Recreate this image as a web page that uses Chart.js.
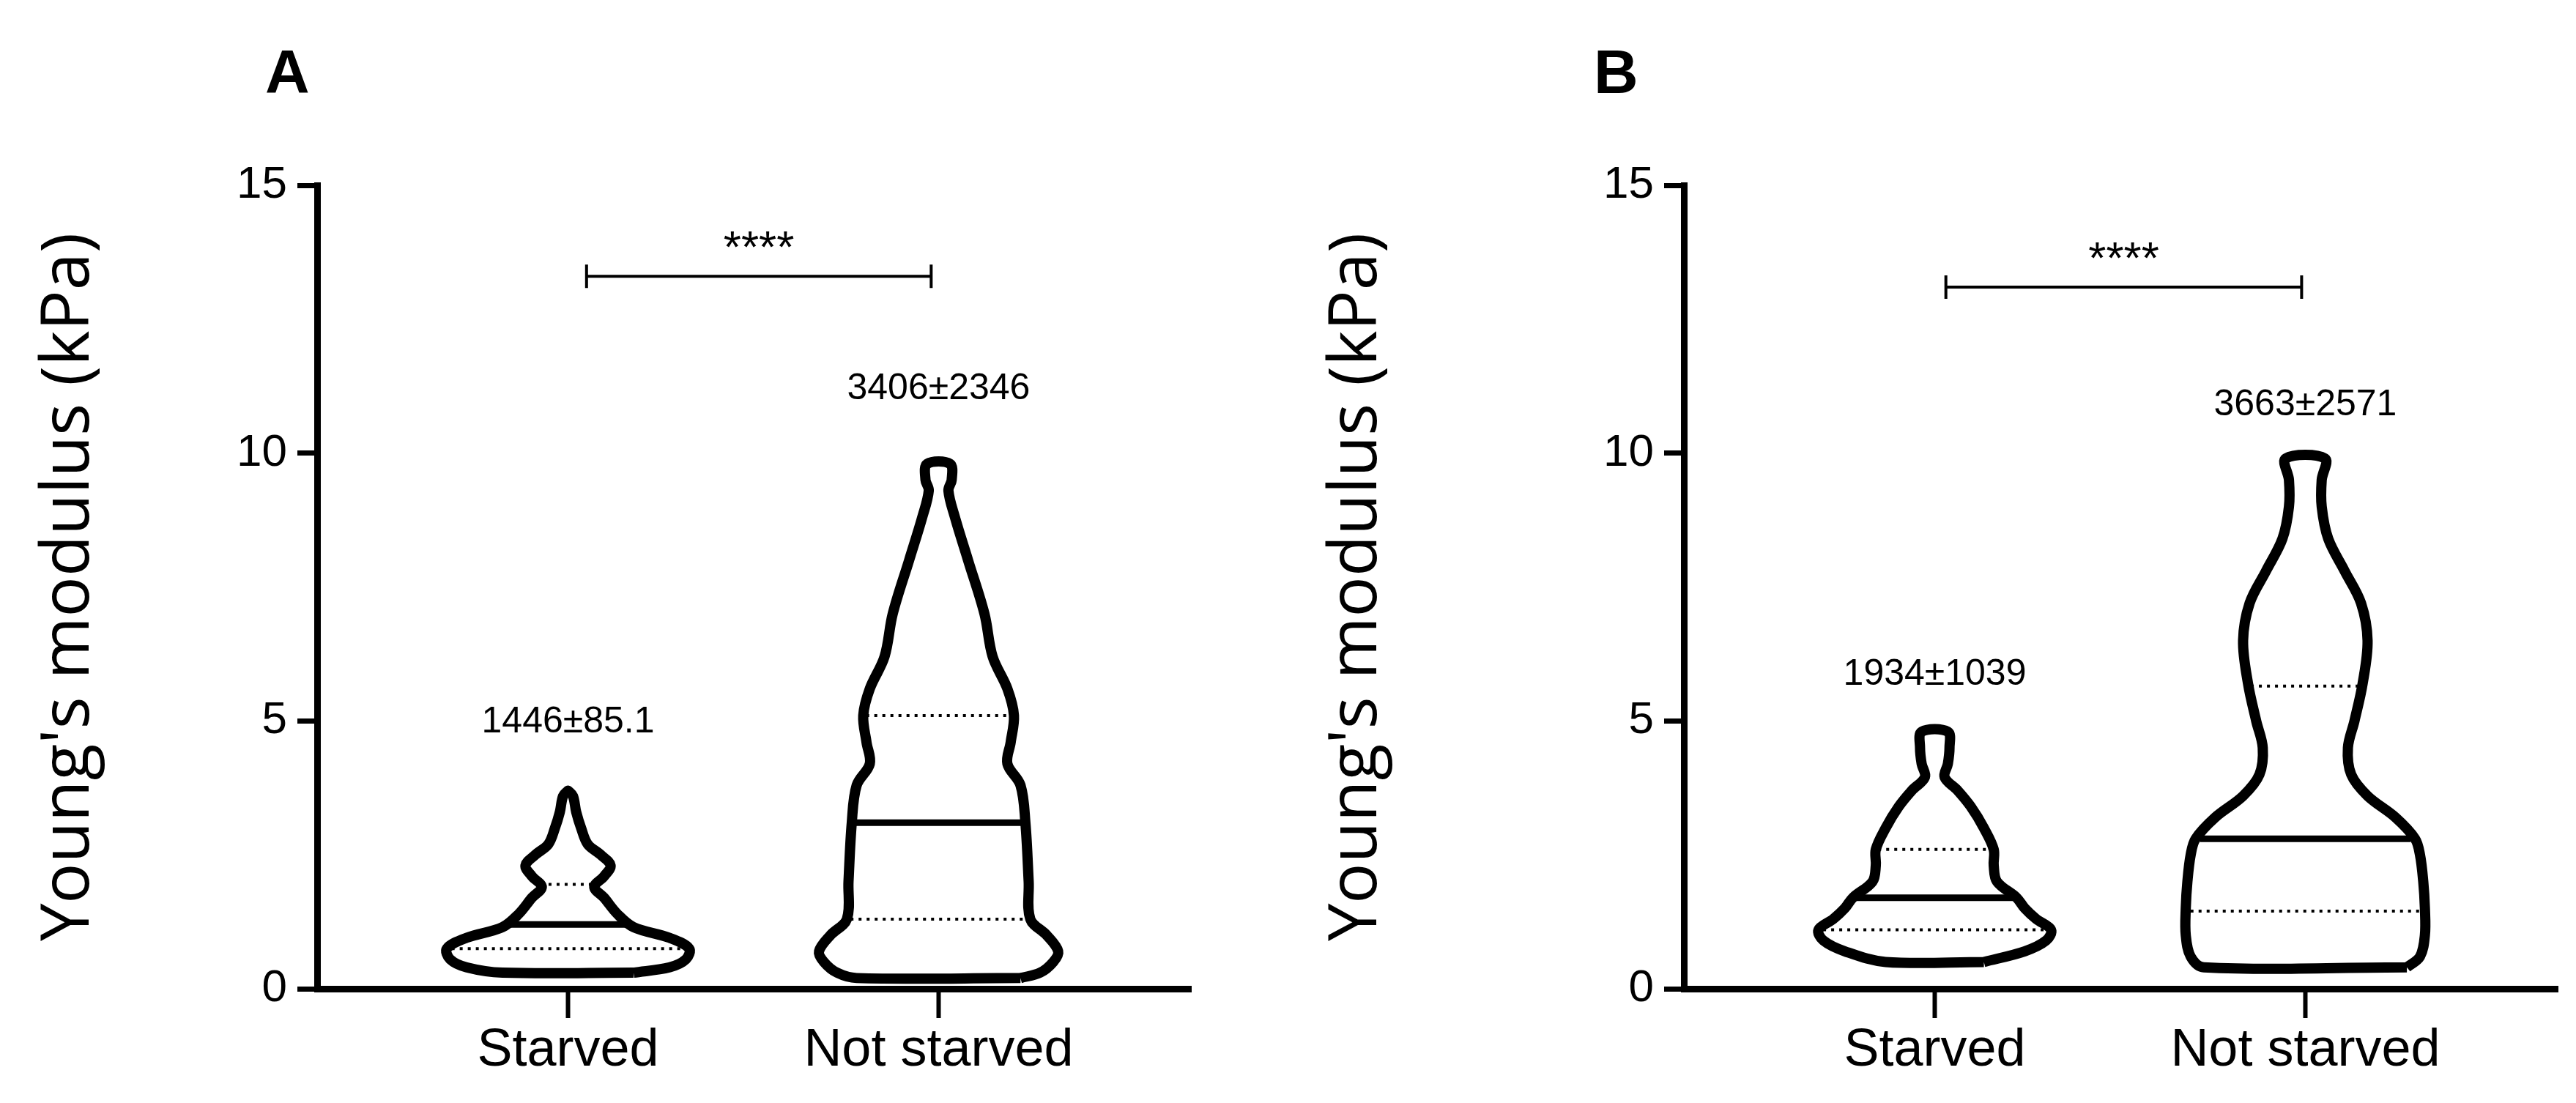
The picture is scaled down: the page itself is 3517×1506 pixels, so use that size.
<!DOCTYPE html>
<html>
<head>
<meta charset="utf-8">
<script src="https://cdn.jsdelivr.net/npm/chart.js@4"></script>
<style>
  body { margin: 0; background: #fff; width: 3517px; height: 1506px; overflow: hidden; position: relative; }
  canvas { position: absolute; top: 0; }
  #cA { left: 0; }
  #cB { left: 1758px; }
  .panel { position: absolute; top: 50px; font: bold 84px "Liberation Sans", Arial, sans-serif; }
</style>
</head>
<body>
<div class="panel" style="left:362px">A</div>
<div class="panel" style="left:2176px">B</div>
<canvas id="cA" width="1758" height="1506"></canvas>
<canvas id="cB" width="1759" height="1506"></canvas>
<script>
// --- Data ---
const categories = ['Starved', 'Not starved'];
const yTicks = [0, 5, 10, 15];

// Panel A violin profiles (y value, relative half width)
const aStarvedY = [0.3, 0.4, 0.55, 0.75, 0.95, 1.15, 1.4, 1.7, 1.9, 2.1, 2.3, 2.5, 2.7, 3.0, 3.3, 3.6, 3.7];
const aStarvedW = [40, 62, 72, 74, 62, 40, 30, 22, 16, 22, 26, 20, 12, 8, 5, 3, 0];
const aNotY = [0.2, 0.3, 0.5, 0.7, 1.0, 1.3, 2.0, 3.1, 3.8, 4.2, 4.6, 5.1, 5.6, 6.2, 7.0, 8.0, 8.8, 9.3, 9.5, 9.8];
const aNotW = [50, 62, 70, 73, 66, 56, 55, 53, 50, 42, 44, 46, 42, 33, 28, 18, 10, 6, 8, 7];
// Panel B violin profiles
const bStarvedY = [0.5, 0.7, 0.9, 1.1, 1.3, 1.5, 1.7, 2.0, 2.3, 2.6, 3.0, 3.4, 3.7, 3.95, 4.2, 4.5, 4.8];
const bStarvedW = [30, 55, 68, 71, 62, 55, 50, 38, 36, 36, 30, 22, 14, 6, 8, 9, 8];
const bNotY = [0.4, 0.6, 1.0, 1.5, 2.0, 2.5, 2.8, 3.2, 3.6, 4.0, 4.5, 5.0, 5.7, 6.5, 7.2, 7.8, 8.4, 9.0, 9.5, 9.9];
const bNotW = [62, 70, 73, 73, 72, 70, 67, 55, 38, 28, 26, 30, 35, 38, 34, 24, 14, 10, 10, 12];

// quartiles [Q1, median, Q3]
const aStarvedQ = [0.75, 1.2, 1.95];
const aNotQ = [1.3, 3.1, 5.1];
const bStarvedQ = [1.1, 1.7, 2.6];
const bNotQ = [1.45, 2.8, 5.65];

// mean ± SD labels and their heights
const aLabels = ['1446\u00b185.1', '3406\u00b12346'];
const aLabelY = [4.97, 11.2];
const bLabels = ['1934\u00b11039', '3663\u00b12571'];
const bLabelY = [5.86, 10.9];
const aSigY = 13.3;
const bSigY = 13.1;
const sigText = '****';

const WIDTH_SCALE = 0.00442;
const FONT = '"Liberation Sans", Arial, sans-serif';

function halfWidthAt(ys, ws, y) {
    for (let i = 0; i < ys.length - 1; i++) {
        if (y >= ys[i] && y <= ys[i + 1]) {
            const t = (y - ys[i]) / (ys[i + 1] - ys[i]);
            return ws[i] + t * (ws[i + 1] - ws[i]);
        }
    }
    return 0;
}

function violinPoints(center, ys, ws) {
    const right = ys.map((y, i) => ({ x: center + ws[i] * WIDTH_SCALE, y }));
    const left = ys.map((y, i) => ({ x: center - ws[i] * WIDTH_SCALE, y })).reverse();
    return right.concat(left, [right[0]]);
}

function quartileSets(center, ys, ws, q) {
    return q.map((v, i) => {
        const hw = halfWidthAt(ys, ws, v) * WIDTH_SCALE * 0.96;
        return {
            data: [{ x: center - hw, y: v }, { x: center + hw, y: v }],
            showLine: true, pointRadius: 0, borderColor: '#000',
            borderWidth: i === 1 ? 9 : 4,
            borderDash: i === 1 ? [] : [4, 7]
        };
    });
}

// --- Annotation plugin ---
const annotations = {
    id: 'annotations',
    afterDatasetsDraw(chart, args, opts) {
        const { ctx, scales: { x, y } } = chart;
        ctx.save();
        ctx.fillStyle = '#000';
        ctx.textAlign = 'center';
        ctx.textBaseline = 'middle';
        ctx.font = '50px ' + FONT;
        opts.labels.forEach((t, i) => ctx.fillText(t, x.getPixelForValue(i), y.getPixelForValue(opts.labelY[i])));
        // significance bar
        const x0 = x.getPixelForValue(opts.sigX[0]), x1 = x.getPixelForValue(opts.sigX[1]);
        const yp = y.getPixelForValue(opts.sigY);
        ctx.strokeStyle = '#000';
        ctx.lineWidth = 4;
        ctx.beginPath();
        ctx.moveTo(x0, yp); ctx.lineTo(x1, yp);
        ctx.moveTo(x0, yp - 16); ctx.lineTo(x0, yp + 16);
        ctx.moveTo(x1, yp - 16); ctx.lineTo(x1, yp + 16);
        ctx.stroke();
        ctx.font = '62px ' + FONT;
        ctx.fillText(sigText, (x0 + x1) / 2, yp - 36);
        ctx.restore();
    }
};

function makeChart(id, profiles, quartiles, labels, labelY, sigY, sigX, axisWidth, padRight) {
    const datasets = [];
    profiles.forEach((p, i) => {
        datasets.push({
            data: violinPoints(i, p[0], p[1]),
            showLine: true, pointRadius: 0, borderColor: '#000', borderWidth: 14,
            tension: 0.35, borderJoinStyle: 'round', fill: false
        });
        datasets.push(...quartileSets(i, p[0], p[1], quartiles[i]));
    });
    new Chart(document.getElementById(id), {
        type: 'scatter',
        data: { datasets },
        plugins: [annotations],
        options: {
            responsive: false,
            animation: false,
            devicePixelRatio: 1,
            layout: { padding: { top: 253, right: padRight, left: 0, bottom: 0 } },
            plugins: {
                legend: { display: false },
                tooltip: { enabled: false },
                annotations: { labels, labelY, sigY, sigX }
            },
            scales: {
                x: {
                    type: 'linear', min: -0.677, max: 1.681,
                    afterBuildTicks: s => { s.ticks = categories.map((c, i) => ({ value: i })); },
                    afterFit: s => { s.height = 156; },
                    ticks: { callback: v => categories[v], color: '#000', font: { family: FONT, size: 72 }, padding: 2 },
                    grid: { drawOnChartArea: false, drawTicks: true, tickLength: 40, tickWidth: 6, color: '#000' },
                    border: { color: '#000', width: 9 }
                },
                y: {
                    min: 0, max: 15,
                    afterBuildTicks: s => { s.ticks = yTicks.map(v => ({ value: v })); },
                    afterFit: s => { s.width = axisWidth; },
                    ticks: { color: '#000', font: { family: FONT, size: 62 }, padding: 14 },
                    grid: { drawOnChartArea: false, drawTicks: true, tickLength: 27, tickWidth: 7, color: '#000' },
                    border: { color: '#000', width: 9 },
                    title: { display: true, text: "Young's modulus (kPa)", color: '#000',
                             font: { family: '"Open Sans", sans-serif', size: 92 }, padding: { top: 40, bottom: 20 } }
                }
            }
        }
    });
}

makeChart('cA', [[aStarvedY, aStarvedW], [aNotY, aNotW]], [aStarvedQ, aNotQ],
    aLabels, aLabelY, aSigY, [0.05, 0.98], 433, 132);
makeChart('cB', [[bStarvedY, bStarvedW], [bNotY, bNotW]], [bStarvedQ, bNotQ],
    bLabels, bLabelY, bSigY, [0.03, 0.99], 541, 25);
</script>
</body>
</html>
